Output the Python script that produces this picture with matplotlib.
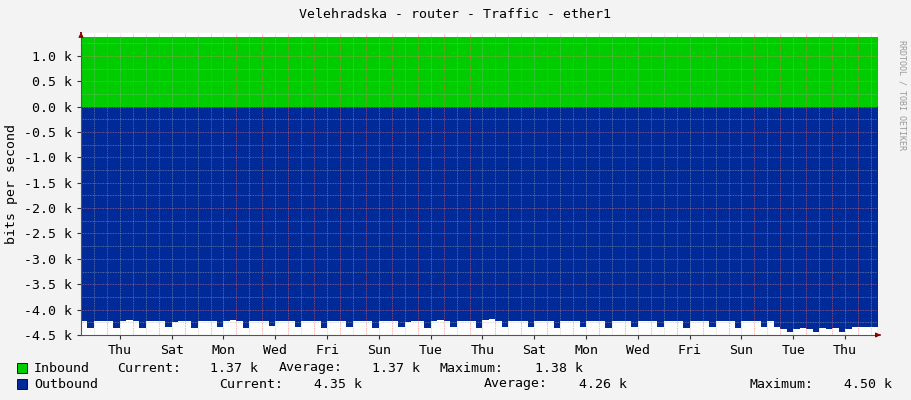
import matplotlib
matplotlib.use("Agg")
import matplotlib.pyplot as plt
import numpy as np

# data: 4 samples per day (6h steps), 31 days, values in k bits/s
inbound = [
1.37,1.37,1.37,1.37, 1.37,1.37,1.37,1.37, 1.37,1.37,1.37,1.37, 1.37,1.37,1.37,1.37,
1.37,1.38,1.37,1.38, 1.37,1.37,1.37,1.37, 1.37,1.37,1.37,1.37, 1.37,1.38,1.38,1.37,
1.37,1.37,1.37,1.37, 1.37,1.37,1.38,1.37, 1.37,1.37,1.37,1.37, 1.38,1.37,1.37,1.37,
1.37,1.37,1.37,1.37, 1.37,1.37,1.37,1.37, 1.37,1.37,1.37,1.37, 1.37,1.37,1.38,1.37,
1.37,1.37,1.37,1.37, 1.37,1.37,1.37,1.37, 1.37,1.37,1.37,1.37, 1.37,1.37,1.37,1.37,
1.37,1.37,1.37,1.37, 1.37,1.37,1.37,1.38, 1.37,1.37,1.37,1.37, 1.37,1.37,1.37,1.37,
1.37,1.37,1.37,1.37, 1.37,1.37,1.37,1.37, 1.37,1.37,1.37,1.37, 1.37,1.37,1.37,1.37,
1.37,1.37,1.37,1.37, 1.37,1.37,1.37,1.37, 1.37,1.37,1.37,1.37]
outbound = [
-4.22,-4.36,-4.23,-4.22, -4.22,-4.36,-4.22,-4.21, -4.23,-4.37,-4.23,-4.22, -4.22,-4.35,-4.24,-4.23,
-4.22,-4.36,-4.22,-4.22, -4.23,-4.34,-4.22,-4.21, -4.22,-4.36,-4.23,-4.22, -4.22,-4.33,-4.23,-4.23,
-4.22,-4.35,-4.22,-4.22, -4.22,-4.36,-4.23,-4.22, -4.23,-4.35,-4.22,-4.22, -4.22,-4.36,-4.22,-4.23,
-4.23,-4.35,-4.24,-4.22, -4.22,-4.36,-4.22,-4.21, -4.22,-4.35,-4.23,-4.22, -4.22,-4.36,-4.20,-4.19,
-4.22,-4.35,-4.23,-4.22, -4.22,-4.34,-4.22,-4.22, -4.23,-4.36,-4.22,-4.22, -4.22,-4.35,-4.22,-4.23,
-4.22,-4.36,-4.23,-4.22, -4.22,-4.35,-4.22,-4.22, -4.23,-4.34,-4.23,-4.22, -4.22,-4.36,-4.22,-4.22,
-4.22,-4.34,-4.23,-4.22, -4.23,-4.36,-4.22,-4.22, -4.22,-4.35,-4.23,-4.34, -4.38,-4.45,-4.38,-4.37,
-4.38,-4.44,-4.37,-4.38, -4.37,-4.45,-4.38,-4.35, -4.35,-4.35,-4.35,-4.35]
day_labels = ["Thu","Sat","Mon","Wed","Fri","Sun","Tue","Thu","Sat","Mon","Wed","Fri","Sun","Tue","Thu"]
legend_inbound = ("Inbound", "1.37 k", "1.37 k", "1.38 k")
legend_outbound = ("Outbound", "4.35 k", "4.26 k", "4.50 k")

bg = "#f3f3f3"
fig = plt.figure(figsize=(9.11, 4.0), dpi=100, facecolor=bg)
L, R, T, B = 81, 877, 33, 335
ax = fig.add_axes([L/911, 1-B/400, (R-L)/911, (B-T)/400])
ax.set_facecolor("white")
n = len(inbound)
x = np.arange(n + 1) / 4.0
xs = np.repeat(x, 2)[1:-1]
ax.fill_between(xs, 0, np.repeat(inbound, 2), color="#00cc00", lw=0, zorder=1)
ax.fill_between(xs, 0, np.repeat(outbound, 2), color="#002a97", lw=0, zorder=1)
xmax = (R - L) / 25.9
ax.set_xlim(0, xmax)
ax.set_ylim(-4.5, 1.45)

# grid
for d in np.arange(0.5, xmax, 0.5):
    major = abs(d - round(d)) < 1e-6
    ax.axvline(d, color=("#ff6060" if major else "#b0b0b0"), lw=0.6,
               ls=(0, (1, 1)), alpha=0.7 if major else 0.6, zorder=2)
for yv in np.arange(-4.5, 1.45, 0.25):
    major = abs(yv * 2 - round(yv * 2)) < 1e-6
    ax.axhline(yv, color=("#ff8080" if major else "#b0b0b0"), lw=0.6,
               ls=(0, (1, 1)), alpha=0.6, zorder=2)

ax.set_xticks(np.arange(1.5, 1.5 + 2 * len(day_labels), 2)[:len(day_labels)])
ax.set_xticklabels(day_labels)
yt = np.arange(-4.5, 1.01, 0.5)
ax.set_yticks(yt)
ax.set_yticklabels([f"{v:.1f} k" for v in yt])
for s in ["top", "right"]:
    ax.spines[s].set_visible(False)
for s in ["left", "bottom"]:
    ax.spines[s].set_color("#555555")
ax.tick_params(labelsize=9.5, length=3, colors="#333333", labelcolor="black")
for lab in ax.get_xticklabels() + ax.get_yticklabels():
    lab.set_family("DejaVu Sans Mono")
ax.set_ylabel("bits per second", family="DejaVu Sans Mono", fontsize=9.5)
ax.annotate("", xy=(0, 1.52), xytext=(0, 1.4), annotation_clip=False,
            arrowprops=dict(arrowstyle="-|>", color="#8b0000", lw=0.8, mutation_scale=7))
ax.annotate("", xy=(xmax + 0.25, -4.5), xytext=(xmax, -4.5), annotation_clip=False,
            arrowprops=dict(arrowstyle="-|>", color="#8b0000", lw=0.8, mutation_scale=7))

mono = dict(family="DejaVu Sans Mono", fontsize=9.5, va="center")
fig.text(455/911, 1-15/400, "Velehradska - router - Traffic - ether1", ha="center", **mono)
fig.text(902/911, 0.5 + 0.4, "RRDTOOL / TOBI OETIKER", rotation=270, ha="center", va="top",
         family="DejaVu Sans Mono", fontsize=6, color="#999999")

def px(xp, yp, s, **kw):
    fig.text(xp/911, 1-yp/400, s, **mono, **kw)

for yp, col, lg in [(368, "#00cc00", legend_inbound), (384, "#002a97", legend_outbound)]:
    fig.patches.append(plt.Rectangle((17/911, 1-(yp+5)/400), 10/911, 10/400,
                                     transform=fig.transFigure, facecolor=col,
                                     edgecolor="black", lw=0.6))
    px(34, yp, lg[0])
px(117, 368, "Current:"); px(258, 368, legend_inbound[1], ha="right")
px(279, 368, "Average:"); px(420, 368, legend_inbound[2], ha="right")
px(440, 368, "Maximum:"); px(583, 368, legend_inbound[3], ha="right")
px(219, 384, "Current:"); px(362, 384, legend_outbound[1], ha="right")
px(484, 384, "Average:"); px(627, 384, legend_outbound[2], ha="right")
px(750, 384, "Maximum:"); px(892, 384, legend_outbound[3], ha="right")

fig.savefig("out.png", dpi=100, facecolor=bg)
